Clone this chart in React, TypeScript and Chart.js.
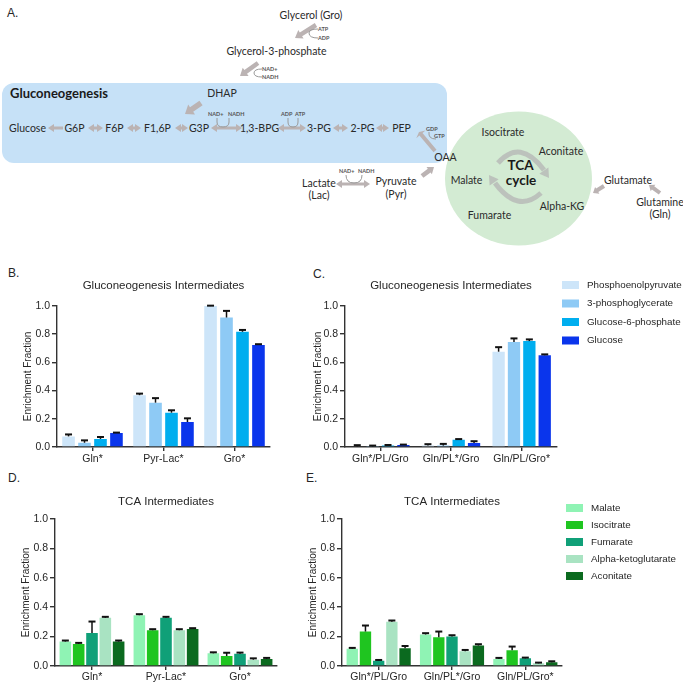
import React, { useEffect, useRef } from "react";
import { Chart, registerables } from "chart.js";

Chart.register(...registerables);

// ---------------- Data ----------------
const glucoGroupsB = ["Gln*", "Pyr-Lac*", "Gro*"];
const glucoGroupsC = ["Gln*/PL/Gro", "Gln/PL*/Gro", "Gln/PL/Gro*"];
const tcaGroupsD = ["Gln*", "Pyr-Lac*", "Gro*"];
const tcaGroupsE = ["Gln*/PL/Gro", "Gln/PL*/Gro", "Gln/PL/Gro*"];

const glucoNames = ["Phosphoenolpyruvate", "3-phosphoglycerate", "Glucose-6-phosphate", "Glucose"];
const tcaNames = ["Malate", "Isocitrate", "Fumarate", "Alpha-ketoglutarate", "Aconitate"];

const yMin = 0;
const yMax = 1;
const yStep = 0.2;

// Panel B (values, upper error)
const pepB = [0.075, 0.367, 0.998];
const pepBErr = [0.014, 0.011, 0.003];
const pg3B = [0.03, 0.314, 0.917];
const pg3BErr = [0.017, 0.032, 0.047];
const g6pB = [0.057, 0.243, 0.816];
const g6pBErr = [0.014, 0.017, 0.013];
const glcB = [0.099, 0.177, 0.723];
const glcBErr = [0.003, 0.026, 0.005];

// Panel C
const pepC = [0.005, 0.01, 0.675];
const pepCErr = [0.008, 0.01, 0.032];
const pg3C = [0.004, 0.01, 0.744];
const pg3CErr = [0.006, 0.012, 0.025];
const g6pC = [0.01, 0.052, 0.75];
const g6pCErr = [0.004, 0.004, 0.012];
const glcC = [0.014, 0.028, 0.65];
const glcCErr = [0.003, 0.013, 0.006];

// Panel D
const malD = [0.166, 0.345, 0.086];
const malDErr = [0.007, 0.007, 0.007];
const isoD = [0.15, 0.243, 0.068];
const isoDErr = [0.007, 0.007, 0.022];
const fumD = [0.225, 0.327, 0.084];
const fumDErr = [0.077, 0.007, 0.007];
const akgD = [0.327, 0.243, 0.043];
const akgDErr = [0.007, 0.007, 0.009];
const aconD = [0.166, 0.252, 0.048];
const aconDErr = [0.007, 0.005, 0.007];

// Panel E
const malE = [0.118, 0.214, 0.048];
const malEErr = [0.005, 0.009, 0.007];
const isoE = [0.234, 0.195, 0.107];
const isoEErr = [0.041, 0.039, 0.025];
const fumE = [0.036, 0.2, 0.052];
const fumEErr = [0.005, 0.009, 0.005];
const akgE = [0.3, 0.1, 0.018];
const akgEErr = [0.009, 0.009, 0.005];
const aconE = [0.12, 0.139, 0.025];
const aconEErr = [0.016, 0.009, 0.007];

const glucoColors = ["#cde5f9", "#8ecaf5", "#00aeef", "#0a35ec"];
const tcaColors = ["#8ff3b4", "#1fc520", "#10a078", "#a9e3c2", "#0b6a1f"];

// ---------------- Styling ----------------
const FONT = "'Liberation Sans', Arial, Helvetica, sans-serif";
const DFONT = "Lato, 'Noto Sans', sans-serif";
const TXT = "#262626";
const AXIS = "#333";

// ---------------- Plugins ----------------
const errorBarPlugin = {
  id: "errorBars",
  afterDatasetsDraw(chart: any) {
    const ctx = chart.ctx;
    const yScale = chart.scales.y;
    chart.data.datasets.forEach((ds: any, di: number) => {
      const meta = chart.getDatasetMeta(di);
      if (meta.hidden || !ds.errorBars) return;
      meta.data.forEach((bar: any, i: number) => {
        const v = ds.data[i];
        const e = ds.errorBars[i];
        const yTop = yScale.getPixelForValue(v + e);
        const yBase = yScale.getPixelForValue(v);
        ctx.save();
        ctx.strokeStyle = "#111";
        ctx.lineWidth = 1.5;
        ctx.beginPath();
        ctx.moveTo(bar.x, yBase);
        ctx.lineTo(bar.x, yTop);
        ctx.stroke();
        ctx.lineWidth = 2;
        ctx.beginPath();
        ctx.moveTo(bar.x - 3.5, yTop);
        ctx.lineTo(bar.x + 3.5, yTop);
        ctx.stroke();
        ctx.restore();
      });
    });
  },
};

const sideLegendPlugin = {
  id: "sideLegend",
  afterDraw(chart: any, _args: any, opts: any) {
    if (!opts || !opts.show) return;
    const ctx = chart.ctx;
    ctx.save();
    chart.data.datasets.forEach((ds: any, i: number) => {
      const cy = opts.y + i * opts.rowGap;
      ctx.fillStyle = ds.backgroundColor;
      ctx.fillRect(opts.x, cy - opts.boxH / 2, opts.boxW, opts.boxH);
      ctx.fillStyle = TXT;
      ctx.font = `${opts.fontSize}px ${FONT}`;
      ctx.textBaseline = "middle";
      ctx.textAlign = "left";
      ctx.fillText(ds.label, opts.x + opts.boxW + opts.gap, cy);
    });
    ctx.restore();
  },
};

type Series = { label: string; data: number[]; err: number[]; color: string };

type PanelCfg = {
  labels: string[];
  series: Series[];
  title: string;
  yWidth: number;
  xHeight: number;
  padRight: number;
  titlePad: { top: number; bottom: number };
  yTitlePad: number;
  xTickPad: number;
  catPct: number;
  barPct: number;
  legend?: any;
};

function makeConfig(p: PanelCfg): any {
  return {
    type: "bar",
    data: {
      labels: p.labels,
      datasets: p.series.map((s) => ({
        label: s.label,
        data: s.data,
        errorBars: s.err,
        backgroundColor: s.color,
        borderWidth: 0,
        categoryPercentage: p.catPct,
        barPercentage: p.barPct,
      })),
    },
    options: {
      responsive: false,
      animation: false,
      events: [],
      layout: { padding: { left: 0, right: p.padRight, top: 0, bottom: 0 } },
      plugins: {
        legend: { display: false },
        tooltip: { enabled: false },
        title: {
          display: true,
          text: p.title,
          color: TXT,
          font: { family: FONT, size: 11.5, weight: "normal" },
          padding: p.titlePad,
          fullSize: false,
        },
        sideLegend: p.legend ? { show: true, ...p.legend } : { show: false },
      },
      scales: {
        x: {
          type: "category",
          offset: true,
          grid: {
            offset: false,
            drawOnChartArea: false,
            drawTicks: true,
            tickLength: 4,
            color: AXIS,
            lineWidth: 1.4,
          },
          border: { display: true, color: AXIS, width: 1.4 },
          ticks: {
            color: TXT,
            font: { family: FONT, size: 10.5 },
            padding: p.xTickPad,
            maxRotation: 0,
            autoSkip: false,
          },
          afterFit: (s: any) => {
            s.height = p.xHeight;
          },
        },
        y: {
          min: yMin,
          max: yMax,
          grid: {
            drawOnChartArea: false,
            drawTicks: true,
            tickLength: 5,
            color: AXIS,
            lineWidth: 1.4,
          },
          border: { display: true, color: AXIS, width: 1.4 },
          ticks: {
            stepSize: yStep,
            color: TXT,
            font: { family: FONT, size: 10.5 },
            padding: 2,
            callback: (v: any) => Number(v).toFixed(1),
          },
          title: {
            display: true,
            text: "Enrichment Fraction",
            color: TXT,
            font: { family: FONT, size: 10 },
            padding: { top: p.yTitlePad, bottom: 0 },
          },
          afterFit: (s: any) => {
            s.width = p.yWidth;
          },
        },
      },
    },
    plugins: [errorBarPlugin, sideLegendPlugin],
  };
}

function BarPanel(props: { cfg: PanelCfg; left: number; top: number; width: number; height: number }) {
  const ref = useRef<HTMLCanvasElement>(null);
  useEffect(() => {
    const chart = new Chart(ref.current as HTMLCanvasElement, makeConfig(props.cfg));
    return () => chart.destroy();
  }, []);
  return (
    <canvas
      ref={ref}
      width={props.width}
      height={props.height}
      style={{
        position: "absolute",
        left: props.left,
        top: props.top,
        width: props.width,
        height: props.height,
      }}
    />
  );
}

// ---------------- Diagram helpers ----------------
const ARROW = "#bbb3b3";

function arrowPoints(x1: number, y1: number, x2: number, y2: number, w: number, hl: number, hw: number, both: boolean) {
  const dx = x2 - x1;
  const dy = y2 - y1;
  const L = Math.hypot(dx, dy);
  const ux = dx / L;
  const uy = dy / L;
  const nx = -uy;
  const ny = ux;
  const P = (x: number, y: number) => `${x.toFixed(1)},${y.toFixed(1)}`;
  const bx = x2 - ux * hl;
  const by = y2 - uy * hl;
  const pts: string[] = [];
  if (both) {
    const ax = x1 + ux * hl;
    const ay = y1 + uy * hl;
    pts.push(
      P(x1, y1),
      P(ax + (nx * hw) / 2, ay + (ny * hw) / 2),
      P(ax + (nx * w) / 2, ay + (ny * w) / 2),
      P(bx + (nx * w) / 2, by + (ny * w) / 2),
      P(bx + (nx * hw) / 2, by + (ny * hw) / 2),
      P(x2, y2),
      P(bx - (nx * hw) / 2, by - (ny * hw) / 2),
      P(bx - (nx * w) / 2, by - (ny * w) / 2),
      P(ax - (nx * w) / 2, ay - (ny * w) / 2),
      P(ax - (nx * hw) / 2, ay - (ny * hw) / 2)
    );
  } else {
    pts.push(
      P(x1 + (nx * w) / 2, y1 + (ny * w) / 2),
      P(bx + (nx * w) / 2, by + (ny * w) / 2),
      P(bx + (nx * hw) / 2, by + (ny * hw) / 2),
      P(x2, y2),
      P(bx - (nx * hw) / 2, by - (ny * hw) / 2),
      P(bx - (nx * w) / 2, by - (ny * w) / 2),
      P(x1 - (nx * w) / 2, y1 - (ny * w) / 2)
    );
  }
  return pts.join(" ");
}

function Arr(props: { a: number[]; w?: number; hl?: number; hw?: number; both?: boolean; fill?: string; op?: number }) {
  const [x1, y1, x2, y2] = props.a;
  return (
    <polygon
      points={arrowPoints(x1, y1, x2, y2, props.w ?? 3.2, props.hl ?? 6, props.hw ?? 8, !!props.both)}
      fill={props.fill ?? ARROW}
      opacity={props.op ?? 1}
    />
  );
}

function T(props: { x: number; y: number; s?: number; b?: boolean; a?: string; f?: string; children: any }) {
  return (
    <text
      x={props.x}
      y={props.y}
      fontSize={props.s ?? 10.5}
      fontWeight={props.b ? "bold" : "normal"}
      textAnchor={(props.a as any) ?? "middle"}
      fill={props.f ?? "#2a2a2a"}
      fontFamily={DFONT}
    >
      {props.children}
    </text>
  );
}

function Sm(props: { x: number; y: number; children: any }) {
  return (
    <text x={props.x} y={props.y} fontSize={5.5} fill="#555" fontFamily={DFONT} fontWeight="bold">
      {props.children}
    </text>
  );
}

function Diagram() {
  const thin = { fill: "none", stroke: "#9a9a9a", strokeWidth: 1 };
  const row = 128;
  return (
    <svg width={683} height={683} style={{ position: "absolute", left: 0, top: 0 }}>
      {/* Panel letters */}
      <text x={7} y={17} fontSize={12} fill={TXT} fontFamily={FONT}>A.</text>
      <text x={8} y={277} fontSize={12} fill={TXT} fontFamily={FONT}>B.</text>
      <text x={313} y={278} fontSize={12} fill={TXT} fontFamily={FONT}>C.</text>
      <text x={8} y={482} fontSize={12} fill={TXT} fontFamily={FONT}>D.</text>
      <text x={306} y={482} fontSize={12} fill={TXT} fontFamily={FONT}>E.</text>

      {/* Gluconeogenesis box */}
      <rect x={2} y={83} width={445} height={80} rx={12} ry={12} fill="#c6e1f7" />
      {/* TCA circle */}
      <ellipse cx={518.5} cy={178.5} rx={73.5} ry={67} fill="#d3ebd3" />

      <T x={10} y={98} s={13} b a="start" f="#1a1a1a">Gluconeogenesis</T>

      {/* Glycerol branch */}
      <T x={311} y={19}>Glycerol (Gro)</T>
      <Arr a={[316, 25, 295, 38]} w={4.5} hl={7} hw={10} />
      <path d="M318,29 Q309,29 309,33 Q309,38 318,38" {...thin} />
      <Sm x={318} y={31}>ATP</Sm>
      <Sm x={318} y={40}>ADP</Sm>
      <T x={276.5} y={55}>Glycerol-3-phosphate</T>
      <Arr a={[258, 63, 240, 76]} w={4.5} hl={7} hw={10} />
      <path d="M262,69 Q254,69 254,73 Q254,77 262,77" {...thin} />
      <Sm x={262} y={71}>NAD+</Sm>
      <Sm x={262} y={79}>NADH</Sm>
      <T x={222} y={97}>DHAP</T>
      <Arr a={[201, 103, 185, 114]} w={5.5} hl={8} hw={12} />

      {/* Main row */}
      <T x={27.5} y={row + 4}>Glucose</T>
      <Arr a={[63, row, 48, row]} />
      <T x={74.5} y={row + 4}>G6P</T>
      <Arr a={[88, row, 103, row]} both />
      <T x={114.5} y={row + 4}>F6P</T>
      <Arr a={[127, row, 141, row]} both />
      <T x={157.5} y={row + 4}>F1,6P</T>
      <Arr a={[175, row, 188, row]} both />
      <T x={199} y={row + 4}>G3P</T>
      <Arr a={[211, row, 242, row]} both />
      <path d="M217,118 L217,122 Q217,127 223,127 Q229,127 229,122 L229,118" {...thin} />
      <Sm x={208} y={116}>NAD+</Sm>
      <Sm x={228} y={116}>NADH</Sm>
      <T x={259.5} y={row + 4}>1,3-BPG</T>
      <Arr a={[278, row, 306, row]} both />
      <path d="M288,118 L288,122 Q288,127 293,127 Q298,127 298,122 L298,118" {...thin} />
      <Sm x={281} y={116}>ADP</Sm>
      <Sm x={295} y={116}>ATP</Sm>
      <T x={319} y={row + 4}>3-PG</T>
      <Arr a={[333, row, 348, row]} both />
      <T x={362.5} y={row + 4}>2-PG</T>
      <Arr a={[376, row, 389, row]} both />
      <T x={401.5} y={row + 4}>PEP</T>

      {/* PEPCK */}
      <Arr a={[435, 151, 419, 132]} w={4} hl={3} hw={12} />
      <path d="M429,132 Q428,139 436,139" {...thin} />
      <Sm x={426} y={131}>GDP</Sm>
      <Sm x={434} y={138}>GTP</Sm>
      <T x={445.5} y={161}>OAA</T>

      {/* Lactate / Pyruvate */}
      <T x={319} y={187}>Lactate</T>
      <T x={319} y={199}>(Lac)</T>
      <Arr a={[336, 184, 370, 184]} w={3} both />
      <path d="M346,175 Q346,183 354,183 Q362,183 362,175" {...thin} />
      <Sm x={339} y={173}>NAD+</Sm>
      <Sm x={358} y={173}>NADH</Sm>
      <T x={396} y={185}>Pyruvate</T>
      <T x={396} y={198}>(Pyr)</T>
      <Arr a={[422, 176, 434, 167]} w={4.5} hl={6} hw={9} />

      {/* TCA */}
      <T x={503} y={135.5}>Isocitrate</T>
      <T x={561} y={154.5}>Aconitate</T>
      <T x={520.5} y={170} s={13.5} b f="#1a1a1a">TCA</T>
      <T x={521} y={185} s={13.5} b f="#1a1a1a">cycle</T>
      <T x={466.5} y={183.5}>Malate</T>
      <T x={489.5} y={218.5}>Fumarate</T>
      <T x={562} y={210}>Alpha-KG</T>
      <path d="M498,163 Q520,138 544,170" fill="none" stroke="#b4b4b4" strokeWidth={5} opacity={0.75} />
      <Arr a={[538, 162, 549, 178]} w={0.1} hl={9} hw={11} fill="#b4b4b4" op={0.75} />
      <path d="M541,193 Q518,214 495,183" fill="none" stroke="#b4b4b4" strokeWidth={5} opacity={0.75} />
      <Arr a={[498, 188, 489, 175]} w={0.1} hl={9} hw={11} fill="#b4b4b4" op={0.75} />

      {/* Glutamate / Glutamine */}
      <T x={628} y={183.5}>Glutamate</T>
      <Arr a={[604, 186, 593, 193]} w={4} hl={5} hw={8} />
      <T x={660} y={206}>Glutamine</T>
      <T x={660} y={218}>(Gln)</T>
      <Arr a={[660, 193, 649, 185]} w={4} hl={5} hw={8} />
    </svg>
  );
}

// ---------------- Panels ----------------
const panelB: PanelCfg = {
  labels: glucoGroupsB,
  series: [
    { label: glucoNames[0], data: pepB, err: pepBErr, color: glucoColors[0] },
    { label: glucoNames[1], data: pg3B, err: pg3BErr, color: glucoColors[1] },
    { label: glucoNames[2], data: g6pB, err: g6pBErr, color: glucoColors[2] },
    { label: glucoNames[3], data: glcB, err: glcBErr, color: glucoColors[3] },
  ],
  title: "Gluconeogenesis Intermediates",
  yWidth: 57,
  xHeight: 26,
  padRight: 20,
  titlePad: { top: 13, bottom: 13 },
  yTitlePad: 22,
  xTickPad: 2,
  catPct: 0.9,
  barPct: 0.79,
};

const panelC: PanelCfg = {
  labels: glucoGroupsC,
  series: [
    { label: glucoNames[0], data: pepC, err: pepCErr, color: glucoColors[0] },
    { label: glucoNames[1], data: pg3C, err: pg3CErr, color: glucoColors[1] },
    { label: glucoNames[2], data: g6pC, err: g6pCErr, color: glucoColors[2] },
    { label: glucoNames[3], data: glcC, err: glcCErr, color: glucoColors[3] },
  ],
  title: "Gluconeogenesis Intermediates",
  yWidth: 55,
  xHeight: 26,
  padRight: 126,
  titlePad: { top: 13, bottom: 13 },
  yTitlePad: 22,
  xTickPad: 2,
  catPct: 0.87,
  barPct: 0.8,
  legend: { x: 272, y: 19, rowGap: 18.5, boxW: 17, boxH: 8, gap: 8, fontSize: 9.8 },
};

const panelD: PanelCfg = {
  labels: tcaGroupsD,
  series: [
    { label: tcaNames[0], data: malD, err: malDErr, color: tcaColors[0] },
    { label: tcaNames[1], data: isoD, err: isoDErr, color: tcaColors[1] },
    { label: tcaNames[2], data: fumD, err: fumDErr, color: tcaColors[2] },
    { label: tcaNames[3], data: akgD, err: akgDErr, color: tcaColors[3] },
    { label: tcaNames[4], data: aconD, err: aconDErr, color: tcaColors[4] },
  ],
  title: "TCA Intermediates",
  yWidth: 55,
  xHeight: 17,
  padRight: 13,
  titlePad: { top: 15, bottom: 10 },
  yTitlePad: 20,
  xTickPad: 1,
  catPct: 0.9,
  barPct: 0.87,
};

const panelE: PanelCfg = {
  labels: tcaGroupsE,
  series: [
    { label: tcaNames[0], data: malE, err: malEErr, color: tcaColors[0] },
    { label: tcaNames[1], data: isoE, err: isoEErr, color: tcaColors[1] },
    { label: tcaNames[2], data: fumE, err: fumEErr, color: tcaColors[2] },
    { label: tcaNames[3], data: akgE, err: akgEErr, color: tcaColors[3] },
    { label: tcaNames[4], data: aconE, err: aconEErr, color: tcaColors[4] },
  ],
  title: "TCA Intermediates",
  yWidth: 52,
  xHeight: 17,
  padRight: 121,
  titlePad: { top: 15, bottom: 10 },
  yTitlePad: 17,
  xTickPad: 1,
  catPct: 0.9,
  barPct: 0.86,
  legend: { x: 276, y: 28, rowGap: 17, boxW: 17, boxH: 8, gap: 8, fontSize: 9.8 },
};

export default function App() {
  return (
    <div
      style={{
        position: "absolute",
        left: 0,
        top: 0,
        width: 683,
        height: 683,
        background: "#fff",
        overflow: "hidden",
      }}
    >
      <Diagram />
      <BarPanel cfg={panelB} left={0} top={266} width={290} height={207} />
      <BarPanel cfg={panelC} left={290} top={266} width={393} height={207} />
      <BarPanel cfg={panelD} left={0} top={480} width={290} height={203} />
      <BarPanel cfg={panelE} left={290} top={480} width={393} height={203} />
    </div>
  );
}
